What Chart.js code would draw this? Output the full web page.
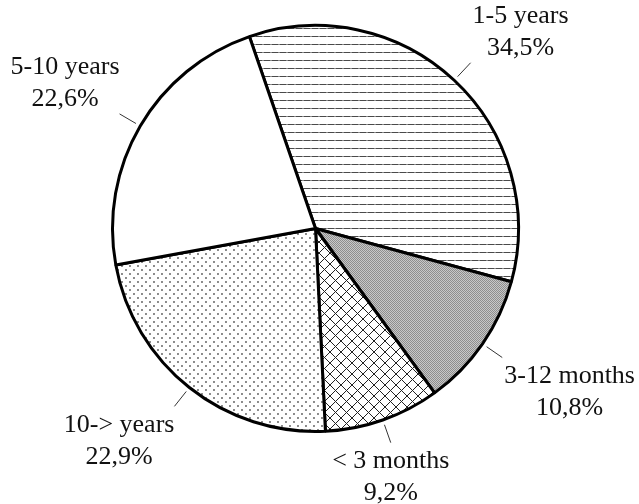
<!DOCTYPE html>
<html>
<head>
<meta charset="utf-8">
<script src="https://cdn.jsdelivr.net/npm/chart.js@4.4.1/dist/chart.umd.min.js"></script>
<style>
    html, body {
        margin: 0;
        padding: 0;
        background: #ffffff;
    }
    #wrap {
        width: 639px;
        height: 504px;
    }
</style>
</head>
<body>
<div id="wrap"><canvas id="pieChart" width="639" height="504"></canvas></div>
<script>
// slices in drawing order, clockwise from the top boundary
const categories = ["1-5 years", "3-12 months", "< 3 months", "10-> years", "5-10 years"];
const shares = [34.5, 10.8, 9.2, 22.9, 22.6];

function makeTile(size, draw) {
    let c = document.createElement("canvas");
    c.width = size;
    c.height = size;
    let ctx = c.getContext("2d");
    draw(ctx, size);
    return document.createElement("canvas").getContext("2d").createPattern(c, "repeat");
}

// horizontal hatching
const hLines = makeTile(8, (ctx, s) => {
    ctx.fillStyle = "#ffffff";
    ctx.fillRect(0, 0, s, s);
    ctx.fillStyle = "#4a4a4a";
    ctx.fillRect(0, 4, 6, 1);
    ctx.fillStyle = "#8a8a8a";
    ctx.fillRect(6, 4, 2, 1);
});

// grey dither
const greyDither = makeTile(2, (ctx) => {
    ctx.fillStyle = "#c8c8c8";
    ctx.fillRect(0, 0, 2, 2);
    ctx.fillStyle = "#8e8e8e";
    ctx.fillRect(0, 0, 1, 1);
    ctx.fillRect(1, 1, 1, 1);
});

// cross hatching
const crossHatch = makeTile(11, (ctx, s) => {
    ctx.fillStyle = "#ffffff";
    ctx.fillRect(0, 0, s, s);
    ctx.strokeStyle = "#222222";
    ctx.lineWidth = 1;
    ctx.beginPath();
    ctx.moveTo(-1, -1);
    ctx.lineTo(s + 1, s + 1);
    ctx.moveTo(s + 1, -1);
    ctx.lineTo(-1, s + 1);
    ctx.stroke();
});

// dotted
const dots = makeTile(8, (ctx, s) => {
    ctx.fillStyle = "#ffffff";
    ctx.fillRect(0, 0, s, s);
    ctx.fillStyle = "#555555";
    ctx.beginPath();
    ctx.arc(2, 2, 0.9, 0, Math.PI * 2);
    ctx.arc(6, 6, 0.9, 0, Math.PI * 2);
    ctx.fill();
});

const fills = [hLines, greyDither, crossHatch, dots, "#ffffff"];

const labelFont = '26px "Liberation Serif", "DejaVu Serif", serif';

const sliceLabels = {
    id: "sliceLabels",
    afterDatasetsDraw(chart) {
        const ctx = chart.ctx;
        const meta = chart.getDatasetMeta(0);
        ctx.save();
        ctx.font = labelFont;
        ctx.fillStyle = "#111111";
        ctx.textBaseline = "middle";
        ctx.textAlign = "center";
        meta.data.forEach((arc, i) => {
            const mid = (arc.startAngle + arc.endAngle) / 2;
            const cx = Math.cos(mid), cy = Math.sin(mid);
            const r = arc.outerRadius;
            const endX = arc.x + cx * (r + 24), endY = arc.y + cy * (r + 24);

            ctx.strokeStyle = "#333333";
            ctx.lineWidth = 1;
            ctx.beginPath();
            ctx.moveTo(arc.x + cx * (r + 5), arc.y + cy * (r + 5));
            ctx.lineTo(endX, endY);
            ctx.stroke();

            const lines = [categories[i], String(shares[i]).replace(".", ",") + "%"];
            const w = Math.max(...lines.map(t => ctx.measureText(t).width));
            let x = endX;
            if (Math.abs(cx) >= 0.4) {
                x = cx > 0 ? endX + w / 2 + 2 : endX - w / 2;
            }
            let y0 = cy < 0 ? endY - 47 : endY + 19;
            ctx.fillText(lines[0], x, y0);
            ctx.fillText(lines[1], x, y0 + 32);
        });
        ctx.restore();
    }
};

const config = {
    type: "pie",
    data: {
        labels: categories,
        datasets: [{
            data: shares,
            backgroundColor: fills,
            borderColor: "#000000",
            borderWidth: 3,
            borderAlign: "center"
        }]
    },
    options: {
        responsive: false,
        animation: false,
        rotation: -19,
        layout: {
            padding: {left: 111, right: 119, top: 24, bottom: 71}
        },
        plugins: {
            legend: {display: false},
            tooltip: {enabled: false}
        }
    },
    plugins: [sliceLabels]
};

let chart;
window.addEventListener("load", () => {
    chart = new Chart(document.getElementById("pieChart"), config);
});
</script>
</body>
</html>
